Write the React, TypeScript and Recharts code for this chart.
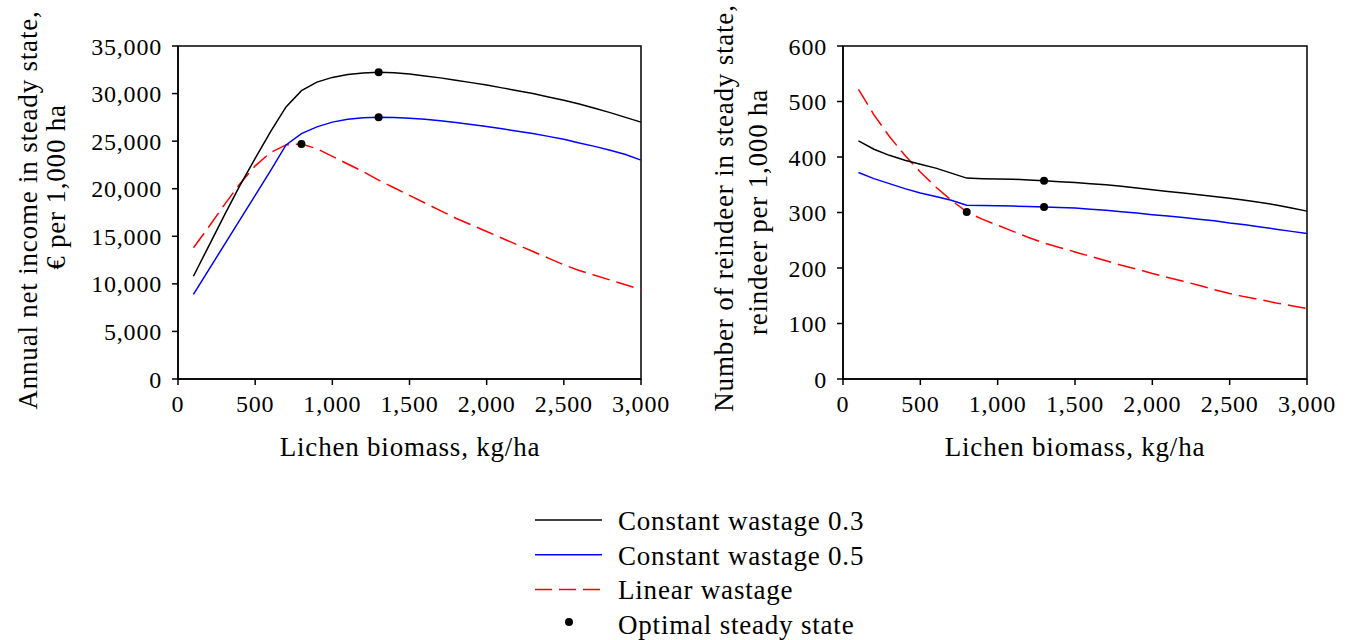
import React from "react";
import { ComposedChart, Line, XAxis, YAxis, ReferenceArea } from "recharts";

// lichen biomass, kg/ha
const lichen = [
  100, 200, 300, 400, 500, 600, 700, 800, 900, 1000, 1100, 1200, 1300, 1400, 1500,
  1600, 1700, 1800, 1900, 2000, 2100, 2200, 2300, 2400, 2500, 2600, 2700, 2800, 2900, 3000,
];

// annual net income, € per 1,000 ha
const incomeW03 = [
  10800, 14000, 17200, 20300, 23200, 26000, 28600, 30300, 31200, 31700, 32000, 32150, 32250, 32200, 32050,
  31850, 31650, 31400, 31150, 30900, 30600, 30300, 30000, 29650, 29300, 28900, 28450, 28000, 27500, 27000,
];
const incomeW05 = [
  8900, 11500, 14100, 16700, 19300, 21900, 24600, 25800, 26500, 27000, 27300, 27450, 27500, 27480, 27400,
  27300, 27150, 26950, 26750, 26550, 26300, 26050, 25800, 25500, 25200, 24800, 24450, 24050, 23600, 23000,
];
const incomeLin = [
  13800, 16000, 18300, 20500, 22400, 23800, 24600, 24700, 24200, 23400, 22600, 21800, 20900, 20100, 19300,
  18500, 17700, 16900, 16200, 15500, 14800, 14100, 13400, 12700, 12000, 11400, 10900, 10400, 9900, 9400,
];

// reindeer per 1,000 ha
const deerW03 = [
  429, 414, 403, 394, 387, 380, 371, 362, 361, 360.5, 360, 358.5, 357, 355.5, 354,
  352, 350, 347.5, 344, 341, 338, 335, 332, 329, 325.5, 322, 318, 313.5, 308, 302.5,
];
const deerW05 = [
  372, 361, 352, 343, 335, 329, 322, 313, 312.5, 312, 311.5, 311, 310, 309, 308,
  306, 304, 301.5, 299, 296, 293.5, 291, 288, 285, 281, 278, 274, 270, 266, 262,
];
const deerLin = [
  522, 476, 437, 403, 373, 346, 322, 301, 288, 277, 266, 255, 245, 237, 229,
  221, 213, 205, 198, 190, 183, 176, 169, 161, 154, 148, 143, 137, 132, 127,
];

// optimal steady state (lichen biomass)
const optW03 = 1300;
const optW05 = 1300;
const optLin = 800;

const xTicks = [0, 500, 1000, 1500, 2000, 2500, 3000];
const incomeTicks = [0, 5000, 10000, 15000, 20000, 25000, 30000, 35000];
const deerTicks = [0, 100, 200, 300, 400, 500, 600];

const legendItems = [
  { label: "Constant wastage 0.3", kind: "line", color: "#000000" },
  { label: "Constant wastage 0.5", kind: "line", color: "#0000ff" },
  { label: "Linear wastage", kind: "dash", color: "#ff0000" },
  { label: "Optimal steady state", kind: "dot", color: "#000000" },
];

const FONT = '"Liberation Serif", "Times New Roman", serif';
const fmt = (v: number) => v.toLocaleString("en-US");

function optDot(optX: number) {
  return (p: any) => {
    const { cx, cy, payload, index } = p;
    if (payload.x !== optX) return <g key={`n-${index}`} />;
    return <circle key={`o-${index}`} cx={cx} cy={cy} r={4} fill="#000" />;
  };
}

function Panel({
  a, b, c, yMax, yTicks, width, yAxisWidth, marginLeft, marginRight,
}: {
  a: number[]; b: number[]; c: number[]; yMax: number; yTicks: number[];
  width: number; yAxisWidth: number; marginLeft: number; marginRight: number;
}) {
  const rows = lichen.map((x, i) => ({ x, w03: a[i], w05: b[i], lin: c[i] }));
  return (
    <ComposedChart
      width={width}
      height={430}
      data={rows}
      margin={{ top: 46, right: marginRight, left: marginLeft, bottom: 11 }}
    >
      <XAxis
        dataKey="x"
        type="number"
        domain={[0, 3000]}
        ticks={xTicks}
        tickFormatter={fmt}
        interval={0}
        height={40}
        tickSize={6}
        tickMargin={10}
        stroke="#000"
        strokeWidth={1.5}
        tick={{ fontSize: 24, fill: "#000" }}
      />
      <YAxis
        type="number"
        domain={[0, yMax]}
        ticks={yTicks}
        tickFormatter={fmt}
        interval={0}
        width={yAxisWidth}
        tickSize={6}
        tickMargin={10}
        stroke="#000"
        strokeWidth={1.5}
        tick={{ fontSize: 24, fill: "#000" }}
      />
      <ReferenceArea x1={0} x2={3000} y1={0} y2={yMax} fill="none" stroke="#000" strokeWidth={1.5} />
      <Line dataKey="lin" stroke="#ff0000" strokeWidth={1.5} strokeDasharray="18 7" dot={optDot(optLin)} activeDot={false} isAnimationActive={false} type="linear" />
      <Line dataKey="w05" stroke="#0000ff" strokeWidth={1.5} dot={optDot(optW05)} activeDot={false} isAnimationActive={false} type="linear" />
      <Line dataKey="w03" stroke="#000000" strokeWidth={1.5} dot={optDot(optW03)} activeDot={false} isAnimationActive={false} type="linear" />
    </ComposedChart>
  );
}

function VLabel({ text, x, y }: { text: string; x: number; y: number }) {
  return (
    <div
      style={{
        position: "absolute", left: x, top: y, fontSize: 27, lineHeight: "27px",
        whiteSpace: "nowrap", transform: "translate(-50%, -50%) rotate(-90deg)",
      }}
    >
      {text}
    </div>
  );
}

function HLabel({ text, x, top }: { text: string; x: number; top: number }) {
  return (
    <div
      style={{
        position: "absolute", left: x, top, fontSize: 27, lineHeight: "27px",
        whiteSpace: "nowrap", transform: "translateX(-50%)",
      }}
    >
      {text}
    </div>
  );
}

export default function App() {
  return (
    <div
      style={{
        position: "absolute", left: 0, top: 0, width: 1350, height: 640, background: "#fff",
        fontFamily: FONT, color: "#000", letterSpacing: "0.8px", overflow: "hidden",
      }}
    >
      <div style={{ position: "absolute", left: 0, top: 0 }}>
        <Panel a={incomeW03} b={incomeW05} c={incomeLin} yMax={35000} yTicks={incomeTicks}
          width={680} yAxisWidth={100} marginLeft={78} marginRight={39} />
      </div>
      <div style={{ position: "absolute", left: 680, top: 0 }}>
        <Panel a={deerW03} b={deerW05} c={deerLin} yMax={600} yTicks={deerTicks}
          width={670} yAxisWidth={80} marginLeft={83} marginRight={43} />
      </div>

      <VLabel text="Annual net income in steady state," x={28} y={210} />
      <VLabel text="€ per 1,000 ha" x={56} y={187} />
      <VLabel text="Number of reindeer in steady state," x={724} y={208} />
      <VLabel text="reindeer per 1,000 ha" x={758} y={212} />
      <HLabel text="Lichen biomass, kg/ha" x={410} top={434} />
      <HLabel text="Lichen biomass, kg/ha" x={1075} top={434} />

      <svg width={1350} height={160} style={{ position: "absolute", left: 0, top: 480 }}>
        {legendItems.map((it, i) => {
          const base = 50 + i * 34.7;
          const mid = base - 10;
          return (
            <g key={it.label}>
              {it.kind === "line" && (
                <line x1={535} x2={602} y1={mid} y2={mid} stroke={it.color} strokeWidth={1.5} />
              )}
              {it.kind === "dash" && (
                <line x1={535} x2={602} y1={mid} y2={mid} stroke={it.color} strokeWidth={1.5} strokeDasharray="17 7" />
              )}
              {it.kind === "dot" && <circle cx={569} cy={mid - 2} r={4} fill={it.color} />}
              <text x={618} y={base} fontSize={27} fill="#000">{it.label}</text>
            </g>
          );
        })}
      </svg>
    </div>
  );
}
